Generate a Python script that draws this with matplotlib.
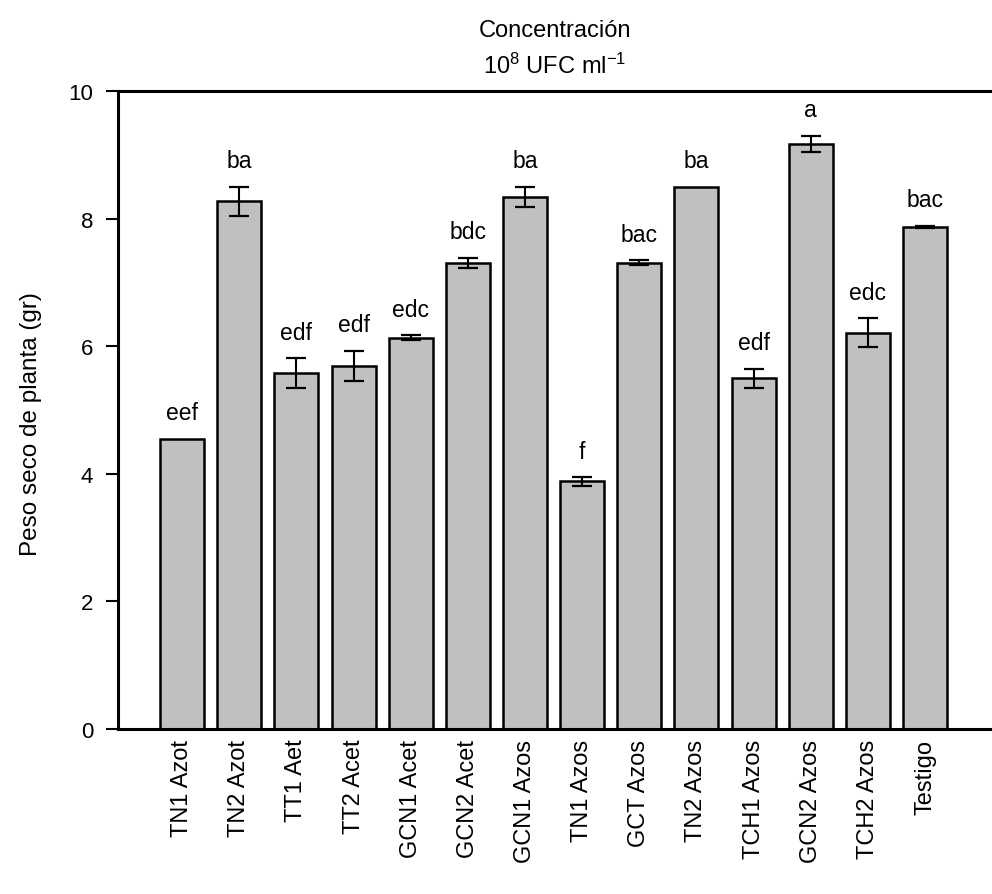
# -*- coding: utf-8 -*-
import matplotlib
matplotlib.use("Agg")
import matplotlib.pyplot as plt
import numpy as np

plt.rcParams['font.family'] = ['Liberation Sans', 'DejaVu Sans']
plt.rcParams['mathtext.fontset'] = 'custom'
plt.rcParams['mathtext.rm'] = 'Liberation Sans'
plt.rcParams['mathtext.it'] = 'Liberation Sans'

# data
treatments = ["TN1 Azot", "TN2 Azot", "TT1 Aet", "TT2 Acet", "GCN1 Acet",
              "GCN2 Acet", "GCN1 Azos", "TN1 Azos", "GCT Azos", "TN2 Azos",
              "TCH1 Azos", "GCN2 Azos", "TCH2 Azos", "Testigo"]
peso = [4.55, 8.27, 5.58, 5.69, 6.13, 7.31, 8.34, 3.88, 7.31, 8.50,
        5.50, 9.17, 6.21, 7.87]
error = [0.0, 0.23, 0.235, 0.24, 0.04, 0.08, 0.16, 0.07, 0.04, 0.0,
         0.15, 0.13, 0.23, 0.02]
letters = ["eef", "ba", "edf", "edf", "edc", "bdc", "ba", "f", "bac", "ba",
           "edf", "a", "edc", "bac"]

fig = plt.figure(figsize=(9.92, 8.95), dpi=100)
ax = fig.add_axes([0.119, 0.1844, 0.881, 0.7128])

x = np.arange(len(treatments))
ax.bar(x, peso, 0.77, color="#c0c0c0", edgecolor="black", linewidth=1.8,
       zorder=2)

# only bars that have an error value get an error bar
err = np.array(error)
has_err = err > 0
ax.errorbar(x[has_err], np.array(peso)[has_err], yerr=err[has_err],
            fmt="none", ecolor="black", elinewidth=1.5,
            capsize=7, capthick=1.6, zorder=3)

for xi, v, e, lab in zip(x, peso, error, letters):
    ax.annotate(lab, (xi, v + e), xytext=(0, 14), textcoords="offset points",
                ha="center", va="baseline", fontsize=16.5)

ax.set_xlim(-1.12, 14.17)
ax.set_ylim(0, 10)
ax.set_yticks([0, 2, 4, 6, 8, 10])
ax.set_xticks(x)
ax.set_xticklabels(treatments, rotation=90, fontsize=17)
ax.tick_params(axis="x", length=0, pad=7)
ax.tick_params(axis="y", length=9, width=1.5, labelsize=16, pad=9)

ax.spines["right"].set_visible(False)
for s in ["left", "bottom", "top"]:
    ax.spines[s].set_linewidth(2.2)

ax.set_ylabel("Peso seco de planta (gr)", fontsize=17.5)
ax.yaxis.set_label_coords(-0.087, 0.48)
ax.set_title("Concentración\n$10^8$ UFC ml$^{-1}$", fontsize=17,
             pad=13, linespacing=1.6)

plt.savefig("out.png", dpi=100)
